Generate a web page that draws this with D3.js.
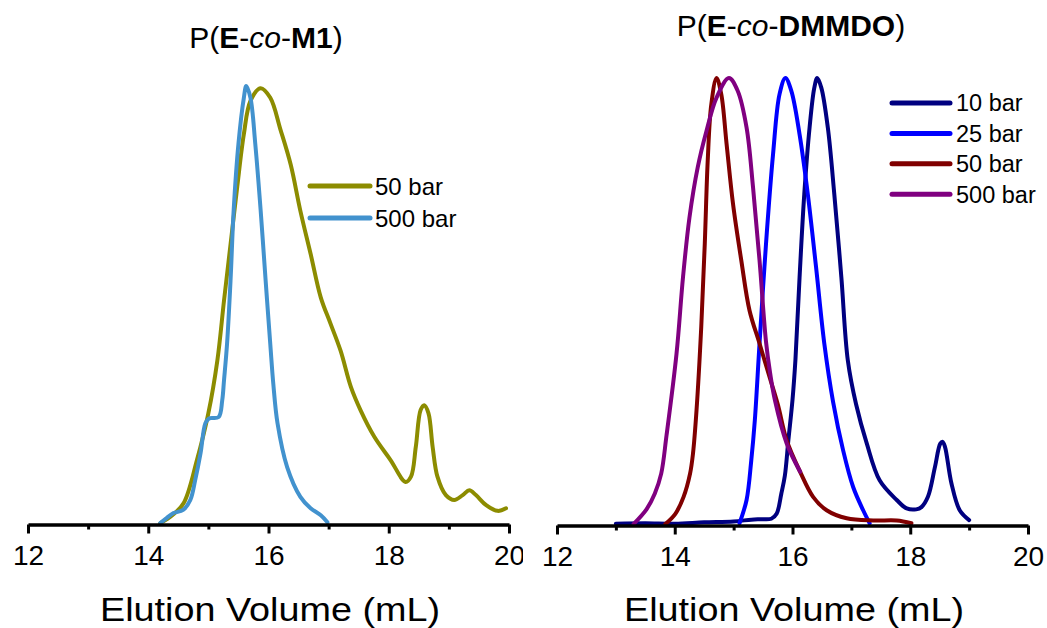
<!DOCTYPE html>
<html>
<head>
<meta charset="utf-8">
<script src="https://cdn.jsdelivr.net/npm/d3@7"></script>
<style>
  html, body { margin: 0; padding: 0; background: #ffffff; }
  svg { display: block; font-family: "Liberation Sans", Arial, Helvetica, sans-serif; }
</style>
</head>
<body>
<svg id="chart" width="1047" height="628"></svg>
<script>
// ---------------- DATA ----------------
const xMajorTicks = [12, 14, 16, 18, 20];
const xMinorTicks = [13, 15, 17, 19];
const xAxisTitle = "Elution Volume (mL)";

// Left panel: P(E-co-M1)  [elution volume (mL), normalised intensity]
const m1_50bar = [
  [14.20,0.002],[14.40,0.020],[14.59,0.048],[14.81,0.146],[15.00,0.253],[15.15,0.374],
  [15.26,0.51],[15.37,0.64],[15.48,0.77],[15.59,0.89],[15.70,0.966],[15.87,0.995],
  [16.03,0.973],[16.20,0.90],[16.37,0.82],[16.53,0.715],[16.70,0.617],[16.87,0.517],
  [17.03,0.458],[17.20,0.395],[17.37,0.313],[17.53,0.26],[17.76,0.199],[18.03,0.146],
  [18.28,0.096],[18.37,0.108],[18.45,0.176],[18.53,0.26],[18.59,0.271],[18.66,0.253],
  [18.73,0.176],[18.81,0.108],[18.95,0.066],[19.09,0.055],[19.23,0.066],[19.34,0.077],
  [19.45,0.066],[19.62,0.043],[19.81,0.030],[19.95,0.036]
];
const m1_500bar = [
  [14.20,0.002],[14.31,0.014],[14.42,0.025],[14.58,0.032],[14.70,0.055],[14.78,0.10],
  [14.87,0.162],[14.95,0.23],[15.01,0.241],[15.17,0.244],[15.23,0.282],[15.26,0.328],
  [15.31,0.41],[15.37,0.56],[15.42,0.715],[15.50,0.868],[15.59,0.973],[15.63,1.0],
  [15.70,0.973],[15.78,0.868],[15.87,0.715],[15.95,0.56],[16.03,0.41],[16.08,0.32],
  [16.15,0.23],[16.31,0.13],[16.53,0.062],[16.70,0.036],[16.87,0.020],[16.98,0.004]
];

// Right panel: P(E-co-DMMDO)
const dmmdo_10bar = [
  [13.00,0.003],[13.50,0.004],[14.00,0.003],[14.50,0.006],[15.00,0.008],[15.30,0.012],
  [15.45,0.013],[15.64,0.014],[15.73,0.025],[15.81,0.07],[15.87,0.11],[15.93,0.19],
  [16.00,0.28],[16.05,0.37],[16.12,0.554],[16.20,0.74],[16.29,0.889],[16.37,0.978],
  [16.42,1.0],[16.49,0.978],[16.60,0.889],[16.71,0.74],[16.83,0.554],[16.94,0.368],
  [17.08,0.27],[17.26,0.183],[17.48,0.10],[17.77,0.056],[17.94,0.037],[18.10,0.035],
  [18.19,0.04],[18.30,0.063],[18.42,0.13],[18.51,0.182],[18.55,0.186],[18.59,0.175],
  [18.70,0.093],[18.84,0.033],[19.00,0.011]
];
const dmmdo_25bar = [
  [15.10,0.004],[15.22,0.056],[15.30,0.145],[15.36,0.234],[15.44,0.406],[15.55,0.629],
  [15.67,0.83],[15.78,0.964],[15.88,1.0],[15.98,0.971],[16.12,0.874],[16.26,0.74],
  [16.40,0.577],[16.54,0.406],[16.69,0.275],[16.86,0.167],[17.03,0.085],[17.20,0.033],
  [17.31,0.004]
];
const dmmdo_50bar = [
  [13.84,0.002],[14.01,0.025],[14.15,0.063],[14.26,0.115],[14.31,0.16],[14.37,0.257],
  [14.45,0.443],[14.51,0.629],[14.56,0.815],[14.62,0.94],[14.71,1.0],[14.79,0.964],
  [14.88,0.853],[14.99,0.718],[15.13,0.592],[15.27,0.48],[15.44,0.406],[15.61,0.331],
  [15.75,0.27],[15.90,0.19],[16.13,0.119],[16.35,0.063],[16.58,0.033],[16.92,0.015],
  [17.37,0.010],[17.77,0.010],[18.02,0.004]
];
const dmmdo_500bar = [
  [13.30,0.002],[13.52,0.035],[13.66,0.07],[13.77,0.115],[13.86,0.20],[14.03,0.383],
  [14.14,0.554],[14.25,0.688],[14.39,0.80],[14.54,0.882],[14.71,0.956],[14.92,1.0],
  [15.07,0.971],[15.22,0.889],[15.33,0.755],[15.44,0.592],[15.55,0.41],[15.62,0.34],
  [15.70,0.28],[15.90,0.183],[16.13,0.119]
];

const legendM1 = ["50 bar", "500 bar"];
const legendDMMDO = ["10 bar", "25 bar", "50 bar", "500 bar"];

// ---------------- DRAWING ----------------
const svg = d3.select("#chart");

svg.append("defs").append("clipPath").attr("id", "leftClip")
  .append("rect").attr("x", 0).attr("y", 0).attr("width", 523).attr("height", 628);

const panels = [
  {
    id: "left",
    titleParts: [["P(", "normal", "normal"], ["E", "bold", "normal"], ["-", "normal", "normal"],
                 ["co", "normal", "italic"], ["-", "normal", "normal"], ["M1", "bold", "normal"], [")", "normal", "normal"]],
    titleX: 266, titleY: 48, titleSize: 30,
    xRange: [28, 509], yRange: [524, 86],
    series: [m1_50bar, m1_500bar],
    colors: ["#8c8c00", "#4292ce"],
    legend: legendM1,
    legX: [310, 370], legY0: 186, legDY: 32, legTextX: 375, legSize: 24,
    axisTitleX: 270, clip: true
  },
  {
    id: "right",
    titleParts: [["P(", "normal", "normal"], ["E", "bold", "normal"], ["-", "normal", "normal"],
                 ["co", "normal", "italic"], ["-", "normal", "normal"], ["DMMDO", "bold", "normal"], [")", "normal", "normal"]],
    titleX: 791, titleY: 36, titleSize: 30,
    xRange: [557, 1028], yRange: [525, 78],
    series: [dmmdo_10bar, dmmdo_25bar, dmmdo_50bar, dmmdo_500bar],
    colors: ["#000080", "#0000ff", "#800000", "#800080"],
    legend: legendDMMDO,
    legX: [892, 950], legY0: 103, legDY: 30.4, legTextX: 956, legSize: 23.5,
    axisTitleX: 794, clip: false
  }
];

panels.forEach(p => {
  const g = svg.append("g").attr("class", "panel-" + p.id);
  if (p.clip) g.attr("clip-path", "url(#leftClip)");

  const x = d3.scaleLinear().domain([12, 20]).range(p.xRange);
  const y = d3.scaleLinear().domain([0, 1]).range(p.yRange);

  // Title
  const t = g.append("text")
    .attr("x", p.titleX).attr("y", p.titleY)
    .attr("text-anchor", "middle")
    .attr("font-size", p.titleSize)
    .attr("fill", "#000");
  p.titleParts.forEach(([s, w, st]) => {
    t.append("tspan").text(s).attr("font-weight", w).attr("font-style", st);
  });

  // Curves
  const line = d3.line()
    .x(d => x(d[0]))
    .y(d => y(d[1]))
    .curve(d3.curveCatmullRom.alpha(0.5));

  p.series.forEach((s, i) => {
    g.append("path")
      .datum(s)
      .attr("d", line)
      .attr("fill", "none")
      .attr("stroke", p.colors[i])
      .attr("stroke-width", 4)
      .attr("stroke-linejoin", "round")
      .attr("stroke-linecap", "round");
  });

  // Axis
  const axisY = p.yRange[0] + 0.5;
  const minorAxis = d3.axisBottom(x).tickValues(xMinorTicks).tickSize(5).tickSizeOuter(0).tickFormat("");
  const majorAxis = d3.axisBottom(x).tickValues(xMajorTicks).tickSize(9).tickSizeOuter(0)
    .tickPadding(11.5).tickFormat(d3.format("d"));

  const gMinor = g.append("g").attr("transform", `translate(0,${axisY})`).call(minorAxis);
  gMinor.select(".domain").remove();
  gMinor.selectAll(".tick line").attr("stroke", "#000").attr("stroke-width", 3);

  const gMajor = g.append("g").attr("transform", `translate(0,${axisY})`).call(majorAxis);
  gMajor.select(".domain").attr("stroke", "#000").attr("stroke-width", 3.5);
  gMajor.selectAll(".tick line").attr("stroke", "#000").attr("stroke-width", 3);
  gMajor.selectAll(".tick text")
    .attr("font-size", 28)
    .attr("font-family", "Liberation Sans, Arial, sans-serif")
    .attr("fill", "#000");

  // Axis title
  g.append("text")
    .attr("x", p.axisTitleX).attr("y", 621)
    .attr("text-anchor", "middle")
    .attr("font-size", 33)
    .attr("textLength", 340)
    .attr("lengthAdjust", "spacingAndGlyphs")
    .attr("fill", "#000")
    .text(xAxisTitle);

  // Legend
  p.legend.forEach((lab, i) => {
    const ly = p.legY0 + i * p.legDY;
    g.append("line")
      .attr("x1", p.legX[0]).attr("x2", p.legX[1])
      .attr("y1", ly).attr("y2", ly)
      .attr("stroke", p.colors[i]).attr("stroke-width", 5)
      .attr("stroke-linecap", "round");
    g.append("text")
      .attr("x", p.legTextX).attr("y", ly + p.legSize * 0.36)
      .attr("font-size", p.legSize)
      .attr("fill", "#000")
      .text(lab);
  });
});
</script>
</body>
</html>
